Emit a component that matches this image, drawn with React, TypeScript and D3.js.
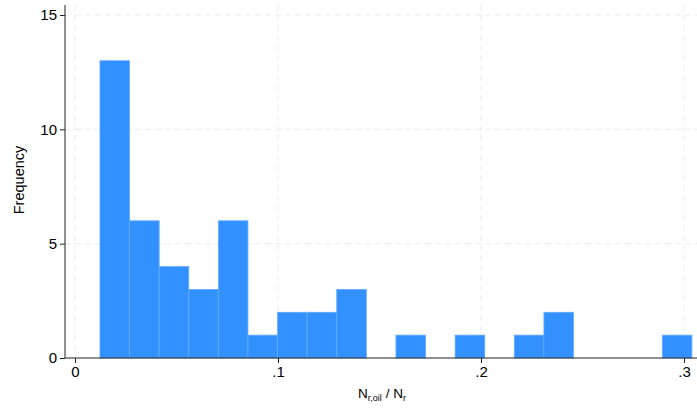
import { useRef, useEffect } from "react";
import * as d3 from "d3";

// histogram bins
const binStart = 0.0123;
const binWidth = 0.01458;
const counts = [13, 6, 4, 3, 6, 1, 2, 2, 3, 0, 1, 0, 1, 0, 1, 2, 0, 0, 0, 1];
const xTicks = [0, 0.1, 0.2, 0.3];
const xTickLabels = ["0", ".1", ".2", ".3"];
const yTicks = [0, 5, 10, 15];

const App = () => {
  const svgRef = useRef<SVGSVGElement>(null);

  useEffect(() => {
    const width = 697;
    const height = 410;
    const svg = d3.select(svgRef.current);
    svg.selectAll("*").remove();
    svg.attr("width", width).attr("height", height);

    const axisX = 65;
    const axisY = 358;
    const x = d3.scaleLinear().domain([0, 0.3]).range([75, 684]);
    const y = d3.scaleLinear().domain([0, 15]).range([axisY, 15]);

    const font = "'Liberation Sans', Arial, sans-serif";

    // grid
    svg
      .append("g")
      .selectAll("line")
      .data(yTicks.filter((d) => d > 0))
      .join("line")
      .attr("x1", axisX)
      .attr("x2", width)
      .attr("y1", (d) => y(d))
      .attr("y2", (d) => y(d))
      .attr("stroke", "#ebebeb")
      .attr("stroke-dasharray", "6,4");

    svg
      .append("g")
      .selectAll("line")
      .data(xTicks)
      .join("line")
      .attr("x1", (d) => x(d))
      .attr("x2", (d) => x(d))
      .attr("y1", 5)
      .attr("y2", axisY)
      .attr("stroke", "#ebebeb")
      .attr("stroke-dasharray", "6,4");

    // bars
    svg
      .append("g")
      .selectAll("rect")
      .data(counts)
      .join("rect")
      .attr("x", (d, i) => x(binStart + i * binWidth))
      .attr("width", (d, i) => x(binStart + (i + 1) * binWidth) - x(binStart + i * binWidth))
      .attr("y", (d) => y(d))
      .attr("height", (d) => y(0) - y(d))
      .attr("fill", "#3391ff")
      .attr("stroke", "#63abff")
      .attr("stroke-width", 0.8)
      .attr("display", (d) => (d === 0 ? "none" : null));

    // axes
    const yAxis = svg
      .append("g")
      .attr("transform", `translate(${axisX},0)`)
      .call(d3.axisLeft(y).tickValues(yTicks).tickSize(5).tickSizeOuter(0).tickPadding(3));
    yAxis.select(".domain").attr("d", `M0,5V${axisY}`).attr("stroke", "#222");
    yAxis.selectAll("line").attr("stroke", "#222");
    yAxis
      .selectAll("text")
      .attr("font-family", font)
      .attr("font-size", 15)
      .attr("fill", "#000");

    const xAxis = svg
      .append("g")
      .attr("transform", `translate(0,${axisY})`)
      .call(
        d3
          .axisBottom(x)
          .tickValues(xTicks)
          .tickFormat((d, i) => xTickLabels[i])
          .tickSize(5)
          .tickSizeOuter(0)
          .tickPadding(3),
      );
    xAxis.select(".domain").attr("d", `M${axisX},0H${width}`).attr("stroke", "#222");
    xAxis.selectAll("line").attr("stroke", "#222");
    xAxis
      .selectAll("text")
      .attr("font-family", font)
      .attr("font-size", 15)
      .attr("fill", "#000");

    // titles
    svg
      .append("text")
      .attr("transform", `translate(24,180) rotate(-90)`)
      .attr("text-anchor", "middle")
      .attr("font-family", font)
      .attr("font-size", 14.5)
      .attr("fill", "#000")
      .text("Frequency");

    const xt = svg
      .append("text")
      .attr("x", 382)
      .attr("y", 398)
      .attr("text-anchor", "middle")
      .attr("font-family", font)
      .attr("font-size", 13.5)
      .attr("fill", "#000");
    xt.append("tspan").text("N");
    xt.append("tspan").attr("font-size", 9).attr("dy", 3).text("r,oil");
    xt.append("tspan").attr("dy", -3).text(" / N");
    xt.append("tspan").attr("font-size", 9).attr("dy", 3).text("r");
  }, []);

  return <svg ref={svgRef} style={{ display: "block", position: "absolute", left: 0, top: 0 }} />;
};

export default App;
